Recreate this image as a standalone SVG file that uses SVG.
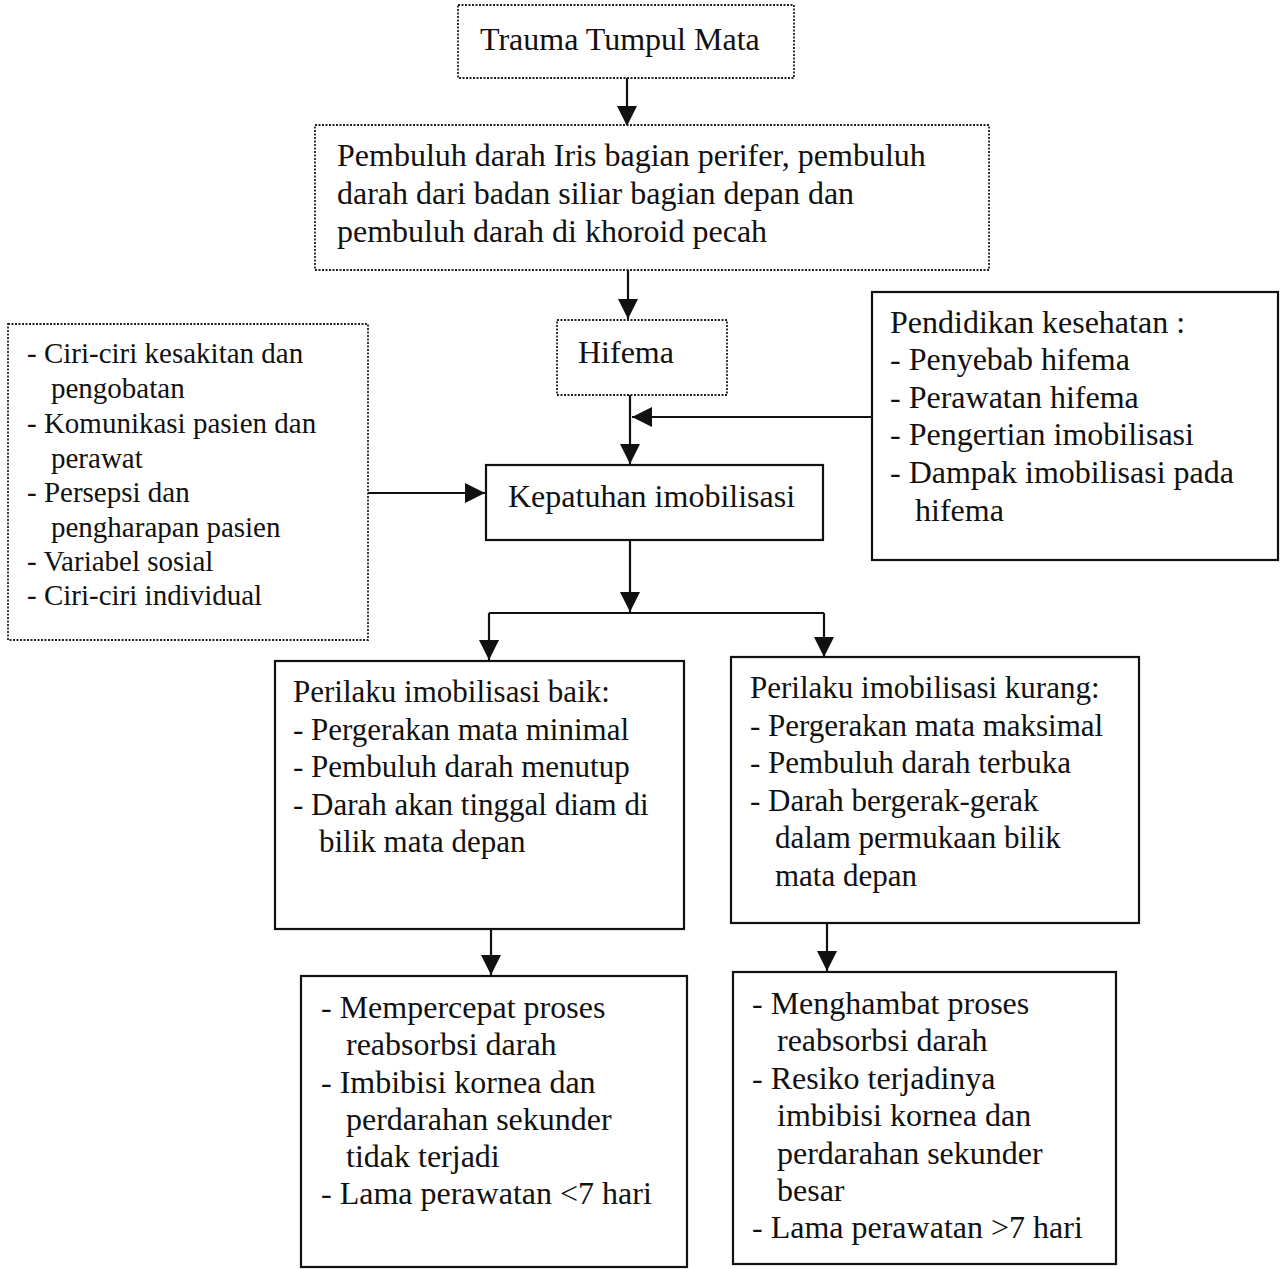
<svg xmlns="http://www.w3.org/2000/svg" width="1285" height="1269" viewBox="0 0 1285 1269">
<style>
  text { font-family: "Liberation Serif", "Times New Roman", serif; fill: #111; }
  .t32 { font-size: 32px; }
  .t31 { font-size: 31px; }
  .t29 { font-size: 29px; }
  .dot { fill: #fff; stroke: #222; stroke-width: 1.8; stroke-dasharray: 2 1.5; }
  .sol { fill: #fff; stroke: #111; stroke-width: 2.2; }
  .ln { fill: none; stroke: #111; stroke-width: 2.2; }
</style>
<defs>
  <marker id="ah" viewBox="0 0 20 20" refX="20" refY="10" markerWidth="20" markerHeight="20" markerUnits="userSpaceOnUse" orient="auto">
    <path d="M0,0 L20,10 L0,20 z" fill="#111"/>
  </marker>
</defs>
<rect width="1285" height="1269" fill="#fff"/>

<g id="connectors">
  <line class="ln" x1="627" y1="78" x2="627" y2="126" marker-end="url(#ah)"/>
  <line class="ln" x1="628" y1="270" x2="628" y2="319" marker-end="url(#ah)"/>
  <line class="ln" x1="630" y1="395" x2="630" y2="464" marker-end="url(#ah)"/>
  <line class="ln" x1="871" y1="417" x2="632" y2="417" marker-end="url(#ah)"/>
  <line class="ln" x1="368" y1="493" x2="485" y2="493" marker-end="url(#ah)"/>
  <line class="ln" x1="630" y1="540" x2="630" y2="612" marker-end="url(#ah)"/>
  <path class="ln" d="M489,613 H824"/>
  <line class="ln" x1="489" y1="613" x2="489" y2="660" marker-end="url(#ah)"/>
  <line class="ln" x1="824" y1="613" x2="824" y2="657" marker-end="url(#ah)"/>
  <line class="ln" x1="491" y1="929" x2="491" y2="975" marker-end="url(#ah)"/>
  <line class="ln" x1="827" y1="923" x2="827" y2="971" marker-end="url(#ah)"/>
</g>

<g id="trauma">
  <rect class="dot" x="458" y="5" width="336" height="73"/>
  <text class="t32" x="480" y="50">Trauma Tumpul Mata</text>
</g>

<g id="pembuluh">
  <rect class="dot" x="315" y="125" width="674" height="145"/>
  <text class="t32" x="337" y="166">Pembuluh darah Iris bagian perifer, pembuluh</text>
  <text class="t32" x="337" y="204">darah dari badan siliar bagian depan dan</text>
  <text class="t32" x="337" y="242">pembuluh darah di khoroid pecah</text>
</g>

<g id="hifema">
  <rect class="dot" x="557" y="320" width="170" height="75"/>
  <text class="t32" x="578" y="363">Hifema</text>
</g>

<g id="faktor">
  <rect class="dot" x="8" y="324" width="360" height="316"/>
  <text class="t29" x="27" y="363">- Ciri-ciri kesakitan dan</text>
  <text class="t29" x="51" y="398">pengobatan</text>
  <text class="t29" x="27" y="433">- Komunikasi pasien dan</text>
  <text class="t29" x="51" y="468">perawat</text>
  <text class="t29" x="27" y="502">- Persepsi dan</text>
  <text class="t29" x="51" y="537">pengharapan pasien</text>
  <text class="t29" x="27" y="571">- Variabel sosial</text>
  <text class="t29" x="27" y="605">- Ciri-ciri individual</text>
</g>

<g id="pendidikan">
  <rect class="sol" x="872" y="292" width="406" height="268"/>
  <text class="t32" x="890" y="333">Pendidikan kesehatan :</text>
  <text class="t32" x="890" y="370">- Penyebab hifema</text>
  <text class="t32" x="890" y="408">- Perawatan hifema</text>
  <text class="t32" x="890" y="445">- Pengertian imobilisasi</text>
  <text class="t32" x="890" y="483">- Dampak imobilisasi pada</text>
  <text class="t32" x="915" y="521">hifema</text>
</g>

<g id="kepatuhan">
  <rect class="sol" x="486" y="465" width="337" height="75"/>
  <text class="t32" x="508" y="507">Kepatuhan imobilisasi</text>
</g>

<g id="baik">
  <rect class="sol" x="275" y="661" width="409" height="268"/>
  <text class="t31" x="293" y="702">Perilaku imobilisasi baik:</text>
  <text class="t31" x="293" y="740">- Pergerakan mata minimal</text>
  <text class="t31" x="293" y="777">- Pembuluh darah menutup</text>
  <text class="t31" x="293" y="815">- Darah akan tinggal diam di</text>
  <text class="t31" x="319" y="852">bilik mata depan</text>
</g>

<g id="kurang">
  <rect class="sol" x="731" y="657" width="408" height="266"/>
  <text class="t31" x="750" y="698">Perilaku imobilisasi kurang:</text>
  <text class="t31" x="750" y="736">- Pergerakan mata maksimal</text>
  <text class="t31" x="750" y="773">- Pembuluh darah terbuka</text>
  <text class="t31" x="750" y="811">- Darah bergerak-gerak</text>
  <text class="t31" x="775" y="848">dalam permukaan bilik</text>
  <text class="t31" x="775" y="886">mata depan</text>
</g>

<g id="hasil-baik">
  <rect class="sol" x="301" y="976" width="386" height="291"/>
  <text class="t32" x="321" y="1018">- Mempercepat proses</text>
  <text class="t32" x="346" y="1055">reabsorbsi darah</text>
  <text class="t32" x="321" y="1093">- Imbibisi kornea dan</text>
  <text class="t32" x="346" y="1130">perdarahan sekunder</text>
  <text class="t32" x="346" y="1167">tidak terjadi</text>
  <text class="t32" x="321" y="1204">- Lama perawatan &lt;7 hari</text>
</g>

<g id="hasil-kurang">
  <rect class="sol" x="733" y="972" width="383" height="292"/>
  <text class="t32" x="752" y="1014">- Menghambat proses</text>
  <text class="t32" x="777" y="1051">reabsorbsi darah</text>
  <text class="t32" x="752" y="1089">- Resiko terjadinya</text>
  <text class="t32" x="777" y="1126">imbibisi kornea dan</text>
  <text class="t32" x="777" y="1164">perdarahan sekunder</text>
  <text class="t32" x="777" y="1201">besar</text>
  <text class="t32" x="752" y="1238">- Lama perawatan &gt;7 hari</text>
</g>
</svg>
